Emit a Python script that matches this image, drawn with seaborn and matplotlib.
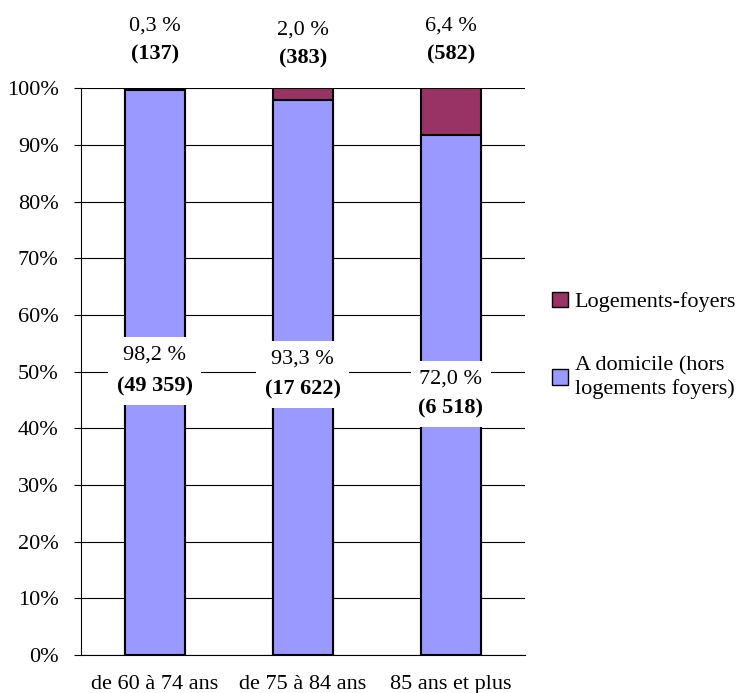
import matplotlib
matplotlib.use('Agg')
import matplotlib.pyplot as plt
import seaborn as sns
import pandas as pd
from matplotlib.patches import Patch

categories = ['de 60 à 74 ans', 'de 75 à 84 ans', '85 ans et plus']
domicile = [49359, 17622, 6518]
foyers = [137, 383, 582]
pct_domicile = ['98,2 %', '93,3 %', '72,0 %']
pct_foyers = ['0,3 %', '2,0 %', '6,4 %']
n_domicile = ['(49 359)', '(17 622)', '(6 518)']
n_foyers = ['(137)', '(383)', '(582)']

df = pd.DataFrame({'cat': categories, 'dom': domicile, 'foy': foyers})
df['total'] = 100.0
df['dom_share'] = df['dom'] / (df['dom'] + df['foy']) * 100

col_dom = '#9999FF'
col_foy = '#993366'
fs = 16

sns.set_style('white')
plt.rcParams['font.family'] = ['Liberation Serif', 'DejaVu Serif']
plt.rcParams['text.color'] = 'black'
plt.rcParams['xtick.color'] = 'black'
plt.rcParams['ytick.color'] = 'black'
plt.rcParams['axes.labelcolor'] = 'black'

fig = plt.figure(figsize=(7.56, 6.93), dpi=100)
ax = fig.add_axes([0.107, 0.0548, 0.587, 0.818])

sns.barplot(x='cat', y='total', data=df, color=col_foy, width=0.405,
            edgecolor='black', linewidth=1.5, ax=ax, zorder=3, saturation=1)
sns.barplot(x='cat', y='dom_share', data=df, color=col_dom, width=0.405,
            edgecolor='black', linewidth=1.5, ax=ax, zorder=3, saturation=1)

ax.set_xlim(-0.5, 2.5)
ax.set_ylim(0, 100)
ax.set_yticks(range(0, 101, 10))
ax.set_yticklabels([f'{v}%' for v in range(0, 101, 10)], fontsize=fs)
ax.yaxis.grid(True, color='black', linewidth=0.8)
ax.set_axisbelow(True)
ax.set_xlabel('')
ax.set_ylabel('')
for s in ['top', 'right']:
    ax.spines[s].set_visible(False)
for s in ['left', 'bottom']:
    ax.spines[s].set_color('black')
    ax.spines[s].set_linewidth(0.8)

ax.set_xticks([-0.5, 0.5, 1.5, 2.5])
ax.set_xticklabels([])
ax.tick_params(axis='x', direction='out', length=5, width=0.8, color='black')
ax.tick_params(axis='y', direction='out', length=5, width=0.8, color='black',
               labelcolor='black', left=True, pad=11)
for i, c in enumerate(categories):
    ax.text(i, -3.6, c, ha='center', va='top', fontsize=fs, color='black')

# top labels (logements-foyers)
top_y1 = [111.0, 110.3, 111.0]
top_y2 = [106.0, 105.3, 106.0]
for i in range(3):
    ax.text(i, top_y1[i], pct_foyers[i], ha='center', va='center', fontsize=fs,
            color='black', clip_on=False)
    ax.text(i, top_y2[i], n_foyers[i], ha='center', va='center', fontsize=fs,
            color='black', fontweight='bold', clip_on=False)

# middle labels (domicile) on white boxes
mid_y1 = [52.9, 52.2, 48.7]
mid_y2 = [47.4, 46.9, 43.5]
box = dict(facecolor='white', edgecolor='none', pad=6)
for i in range(3):
    ax.text(i, mid_y1[i], pct_domicile[i], ha='center', va='center', fontsize=fs,
            color='black', zorder=5, bbox=box)
    ax.text(i, mid_y2[i], n_domicile[i], ha='center', va='center', fontsize=fs,
            color='black', fontweight='bold', zorder=6, bbox=box)

handles = [Patch(facecolor=col_foy, edgecolor='black', linewidth=1),
           Patch(facecolor=col_dom, edgecolor='black', linewidth=1)]
fig.legend(handles, ['Logements-foyers', 'A domicile (hors\nlogements foyers)'],
           loc='upper left', bbox_to_anchor=(0.719, 0.592), frameon=False,
           fontsize=fs, handlelength=0.7, handleheight=0.7, handletextpad=0.3,
           labelspacing=2.0, borderaxespad=0, labelcolor='black')

fig.savefig('out.png', dpi=100)
